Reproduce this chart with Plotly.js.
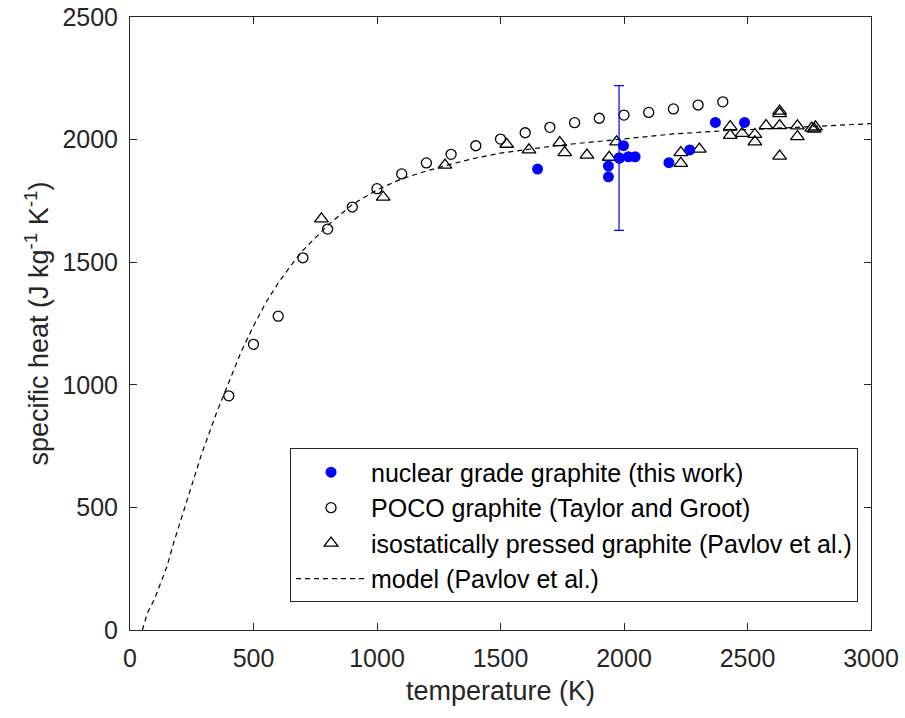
<!DOCTYPE html>
<html>
<head>
<meta charset="utf-8">
<script src="https://cdn.plot.ly/plotly-3.0.1.min.js"></script>
<style>html,body{margin:0;padding:0;background:#fff;}#chart{width:905px;height:718px;}</style>
</head>
<body>
<div id="chart"></div>
<script>
// nuclear grade graphite (this work)
const nuclearT  = [1650, 1937, 1937, 1982, 1998, 2018, 2045, 2182, 2266, 2370, 2488];
const nuclearCp = [1880, 1892, 1848, 1925, 1975, 1930, 1930, 1906, 1958, 2070, 2070];
// error bar on one nuclear point
const errT   = [1980];
const errCp  = [1925];
const errVal = [295];

// POCO graphite (Taylor and Groot)
const pocoT  = [400, 500, 600, 700, 800, 900, 1000, 1100, 1200, 1300, 1400, 1500, 1600, 1700, 1800, 1900, 2000, 2100, 2200, 2300, 2400];
const pocoCp = [955, 1165, 1280, 1518, 1635, 1725, 1800, 1860, 1905, 1940, 1975, 2002, 2028, 2050, 2069, 2087, 2100, 2111, 2125, 2141, 2154];

// isostatically pressed graphite (Pavlov et al.)
const isoT  = [775, 1025, 1275, 1525, 1615, 1740, 1760, 1850, 1940, 1970, 2230, 2230, 2305, 2430, 2430, 2478, 2530, 2530, 2575, 2630, 2630, 2630, 2630, 2702, 2702, 2760, 2770, 2775];
const isoCp = [1677, 1765, 1896, 1981, 1958, 1988, 1947, 1937, 1928, 1991, 1947, 1903, 1961, 2053, 2017, 2025, 2021, 1991, 2057, 2116, 2106, 2057, 1933, 2056, 2012, 2047, 2043, 2052];

// model (Pavlov et al.)
const modelT  = [50, 70, 100, 125, 150, 175, 200, 230, 260, 290, 350, 400, 450, 500, 550, 600, 650, 700, 800, 900, 1000, 1100, 1200, 1300, 1400, 1500, 1600, 1700, 1800, 2000, 2200, 2400, 2600, 2800, 3000];
const modelCp = [0, 68, 128, 192, 260, 350, 430, 528, 615, 718, 885, 1010, 1135, 1240, 1335, 1415, 1485, 1548, 1650, 1735, 1795, 1840, 1872, 1900, 1925, 1945, 1960, 1972, 1983, 2002, 2023, 2036, 2047, 2055, 2065];

const FONT = '"Liberation Sans", Arial, Helvetica, sans-serif';
const INK = '#262626';

const traces = [
  {x: modelT, y: modelCp, mode: 'lines', name: 'model (Pavlov et al.)', legendrank: 4,
   line: {color: '#000', width: 1.2, dash: '5px,4px'}, hoverinfo: 'skip'},
  {x: pocoT, y: pocoCp, mode: 'markers', name: 'POCO graphite (Taylor and Groot)', legendrank: 2,
   marker: {symbol: 'circle-open', size: 10, color: '#000', line: {width: 1.3, color: '#000'}}},
  {x: isoT, y: isoCp, mode: 'markers', name: 'isostatically pressed graphite (Pavlov et al.)', legendrank: 3,
   marker: {symbol: 'triangle-up-open', size: 12, color: '#000', line: {width: 1.3, color: '#000'}}},
  {x: errT, y: errCp, mode: 'markers', showlegend: false,
   marker: {size: 11, color: '#0000ff'},
   error_y: {type: 'data', array: errVal, visible: true, color: '#0000ff', thickness: 1.2, width: 5}},
  {x: nuclearT, y: nuclearCp, mode: 'markers', name: 'nuclear grade graphite (this work)', legendrank: 1,
   marker: {symbol: 'circle', size: 11, color: '#0000ff'}}
];

const axisCommon = {
  showgrid: false, zeroline: false, showline: true, linecolor: INK, linewidth: 1,
  mirror: 'ticks', ticks: 'inside', ticklen: 7, tickwidth: 1, tickcolor: INK,
  tickfont: {family: FONT, size: 25, color: INK}
};

const layout = {
  width: 905, height: 718,
  margin: {l: 130, r: 34, t: 17, b: 88},
  paper_bgcolor: '#fff', plot_bgcolor: '#fff',
  font: {family: FONT, color: INK},
  showlegend: true,
  xaxis: Object.assign({}, axisCommon, {
    range: [0, 3000], tickvals: [0, 500, 1000, 1500, 2000, 2500, 3000],
    ticklabelstandoff: 6,
    title: {text: 'temperature (K)', font: {family: FONT, size: 27, color: INK}, standoff: 10}
  }),
  yaxis: Object.assign({}, axisCommon, {
    range: [0, 2500], tickvals: [0, 500, 1000, 1500, 2000, 2500],
    ticklabelstandoff: 6,
    title: {text: 'specific heat (J kg<sup>-1</sup> K<sup>-1</sup>)', font: {family: FONT, size: 27, color: INK}, standoff: 5}
  }),
  legend: {
    x: 0.9825, xanchor: 'right', y: 0.045, yanchor: 'bottom',
    bgcolor: '#fff', bordercolor: INK, borderwidth: 1,
    font: {family: FONT, size: 25, color: '#000'},
    itemwidth: 70, tracegroupgap: 0
  }
};

Plotly.newPlot('chart', traces, layout, {displayModeBar: false, staticPlot: true});
</script>
</body>
</html>
